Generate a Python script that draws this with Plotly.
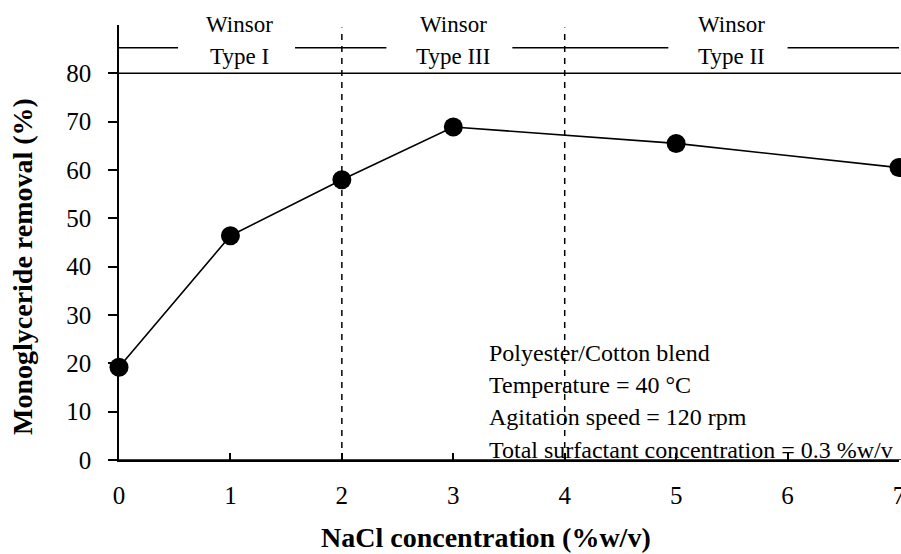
import plotly.graph_objects as go

# ---- data ----
nacl = [0, 1, 2, 3, 5, 7]
removal = [19.2, 46.4, 58.0, 68.9, 65.5, 60.5]
x_ticks = [0, 1, 2, 3, 4, 5, 6, 7]
y_ticks = [0, 10, 20, 30, 40, 50, 60, 70, 80]
phase_bounds = [2, 4]
phase_top = ["Winsor", "Winsor", "Winsor"]
phase_bottom = ["Type I", "Type III", "Type II"]
phase_label_x = [1.08, 3.0, 5.5]
conditions = [
    "Polyester/Cotton blend",
    "Temperature = 40 °C",
    "Agitation speed = 120 rpm",
    "Total surfactant concentration = 0.3 %w/v",
]

FONT = "Liberation Serif"

W, H = 901, 554
ML, MR, MT, MB = 119, 2, 25, 94
pw, ph = W - ML - MR, H - MT - MB

fig = go.Figure()
fig.add_trace(go.Scatter(
    x=nacl, y=removal, mode="lines+markers",
    line=dict(color="black", width=1.6),
    marker=dict(color="black", size=19),
    cliponaxis=False, showlegend=False,
))

shapes = []
shapes.append(dict(type="line", xref="paper", yref="y", x0=0, x1=1.01, y0=80, y1=80,
                   line=dict(color="black", width=1.5)))
shapes.append(dict(type="line", xref="paper", yref="y", x0=0, x1=1.01, y0=0, y1=0,
                   line=dict(color="black", width=1.5)))
for b in phase_bounds:
    shapes.append(dict(type="line", xref="x", yref="y", x0=b, x1=b, y0=0, y1=89.5,
                       line=dict(color="black", width=1.5, dash="6px,6px")))
segs = [(0, 0.53), (1.58, 2.4), (3.53, 4.93), (6.0, 7.05)]
for a, b in segs:
    shapes.append(dict(type="line", xref="x", yref="y", x0=a, x1=b, y0=85.3, y1=85.3,
                       line=dict(color="black", width=1.5)))

annotations = []
for lx, t1, t2 in zip(phase_label_x, phase_top, phase_bottom):
    annotations.append(dict(x=lx, y=(H - MB - 24) / ph, xref="x", yref="paper", text=t1,
                            showarrow=False, font=dict(family=FONT, size=23, color="black"),
                            xanchor="center", yanchor="middle"))
    annotations.append(dict(x=lx, y=83.4, xref="x", yref="y", text=t2, showarrow=False,
                            font=dict(family=FONT, size=23, color="black"),
                            xanchor="center", yanchor="middle"))
for i, t in enumerate(conditions):
    annotations.append(dict(x=3.3, y=22.2 - i * 6.7, xref="x", yref="y", text=t,
                            showarrow=False, xanchor="left", yanchor="middle",
                            font=dict(family=FONT, size=24, color="black")))
annotations.append(dict(x=486, y=537, text="<b>NaCl concentration (%w/v)</b>",
                        showarrow=False, font=dict(family=FONT, size=28, color="black")))
annotations.append(dict(x=22, y=267, text="<b>Monoglyceride removal (%)</b>", textangle=-90,
                        showarrow=False, font=dict(family=FONT, size=28, color="black")))

for a in annotations[-2:]:
    a["xref"] = "paper"; a["yref"] = "paper"
    px, py = a["x"], a["y"]
    a["x"] = (px - ML) / pw
    a["y"] = (H - MB - py) / ph
    a["xanchor"] = "center"; a["yanchor"] = "middle"

fig.update_layout(
    width=W, height=H,
    margin=dict(l=ML, r=MR, t=MT, b=MB, pad=0, autoexpand=False),
    plot_bgcolor="white", paper_bgcolor="white",
    font=dict(family=FONT, size=22, color="black"),
    shapes=shapes, annotations=annotations,
    xaxis=dict(range=[0, 7], tickvals=x_ticks, showgrid=False, zeroline=False,
               showline=True, linecolor="black", linewidth=1.5,
               ticks="inside", ticklen=7, tickwidth=1.5, tickcolor="black",
               ticklabelstandoff=12, ticklabeloverflow="allow", automargin=False,
               tickfont=dict(family=FONT, size=25)),
    yaxis=dict(range=[0, 90], tickvals=y_ticks, showgrid=False, zeroline=False,
               showline=True, linecolor="black", linewidth=1.5,
               ticks="outside", ticklen=9, tickwidth=1.5, tickcolor="black",
               ticklabelstandoff=12, automargin=False,
               tickfont=dict(family=FONT, size=25)),
)

fig.write_html("out.html")
